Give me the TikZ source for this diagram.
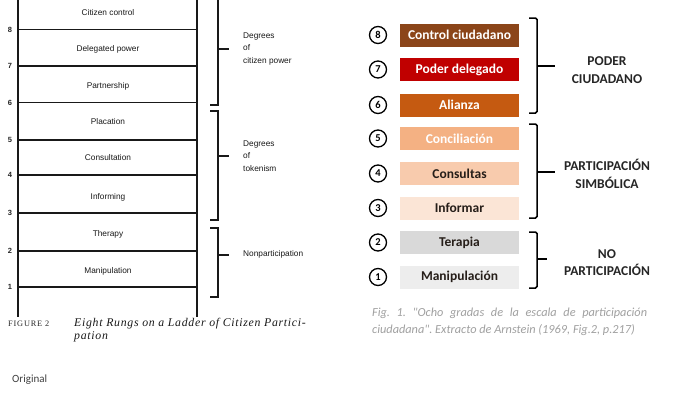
\documentclass[tikz,border=0pt]{standalone}
\usepackage{fontspec}
\setmainfont{Liberation Serif}
\newfontfamily\calfont{Carlito}
\newfontfamily\helfont{Liberation Sans}
\newfontfamily\capfont[LetterSpace=6]{Liberation Serif}
\newfontfamily\figfont[LetterSpace=10]{Liberation Serif}
\definecolor{c8}{RGB}{139,69,25}
\definecolor{c7}{RGB}{192,0,0}
\definecolor{c6}{RGB}{197,90,17}
\definecolor{c5}{RGB}{244,177,131}
\definecolor{c4}{RGB}{248,203,173}
\definecolor{c3}{RGB}{251,229,214}
\definecolor{c2}{RGB}{217,217,217}
\definecolor{c1}{RGB}{237,237,237}
\definecolor{dtext}{RGB}{38,30,25}
\definecolor{capgray}{RGB}{160,160,160}
\definecolor{origgray}{RGB}{64,64,64}
\tikzset{
  ladder/.style={line width=1.6pt, black!90},
  rungtxt/.style={font=\helfont\fontsize{8.3}{9}\selectfont, text=black!90, inner sep=0pt},
  rungnum/.style={font=\helfont\bfseries\fontsize{7.5}{8}\selectfont, text=black!85, inner sep=0pt},
  degtxt/.style={font=\helfont\fontsize{8.3}{12.5}\selectfont, text=black!90, align=left, inner sep=0pt, anchor=west},
  lbrack/.style={line width=1.6pt, black!90},
  stepbox/.style={minimum width=119pt, minimum height=23pt, inner sep=0pt, font=\calfont\bfseries\fontsize{13.5}{15}\selectfont},
  numcirc/.style={circle, draw=black, line width=1.3pt, minimum size=17pt, inner sep=0pt, font=\calfont\bfseries\fontsize{10.5}{11}\selectfont},
  rbrack/.style={line width=1.5pt, black, rounded corners=1.5pt},
  grouptxt/.style={font=\calfont\bfseries\fontsize{13.5}{17.5}\selectfont, align=center, text=black!85, inner sep=0pt},
}
\begin{document}
\begin{tikzpicture}[x=1pt,y=-1pt]
\useasboundingbox[fill=white] (0,0) rectangle (673,400);
% ---------- left ladder ----------
\coordinate (lt) at (18,0); \coordinate (lb) at (18,317);
\coordinate (rt) at (197,0); \coordinate (rb) at (197,317);
\draw[ladder] (lt) -- (lb);
\draw[ladder] (rt) -- (rb);
\foreach \k/\y in {8/29.5,7/66,6/102.5,5/140,4/175,3/213,2/251,1/287}{
  \coordinate (ra\k) at (18,\y); \coordinate (rz\k) at (197,\y);
  \draw[ladder] (ra\k) -- (rz\k);
  \node[rungnum] (n\k) at (10,\y) {\k};
}
\foreach \nm/\y/\t in {a/13/Citizen control,b/49/Delegated power,c/86/Partnership,d/122/Placation,e/158/Consultation,f/197/Informing,g/234/Therapy,h/271/Manipulation}{
  \node[rungtxt] (t\nm) at (108,\y) {\t};
}
% left brackets
\coordinate (b1a) at (218,0); \coordinate (b1b) at (218,105); \coordinate (b1c) at (210,105);
\draw[lbrack] (b1a) -- (b1b) -- (b1c);
\coordinate (b1m) at (218,49); \coordinate (b1t) at (229,49);
\draw[lbrack] (b1m) -- (b1t);
\coordinate (b2a) at (210,111); \coordinate (b2b) at (218,111); \coordinate (b2c) at (218,220); \coordinate (b2d) at (210,220);
\draw[lbrack] (b2a) -- (b2b) -- (b2c) -- (b2d);
\coordinate (b2m) at (218,156); \coordinate (b2t) at (229,156);
\draw[lbrack] (b2m) -- (b2t);
\coordinate (b3a) at (210,228); \coordinate (b3b) at (218,228); \coordinate (b3c) at (218,297); \coordinate (b3d) at (210,297);
\draw[lbrack] (b3a) -- (b3b) -- (b3c) -- (b3d);
\coordinate (b3m) at (218,255); \coordinate (b3t) at (229,255);
\draw[lbrack] (b3m) -- (b3t);
\node[degtxt] (g1) at (243,49) {Degrees\\of\\citizen power};
\node[degtxt] (g2) at (243,156) {Degrees\\of\\tokenism};
\node[degtxt] (g3) at (243,254) {Nonparticipation};
% left caption
\node[anchor=west, inner sep=0pt, font=\figfont\fontsize{8.3}{9}\selectfont, text=black!85] (fig2) at (8,324) {FIGURE 2};
\node[anchor=west, inner sep=0pt, font=\capfont\itshape\fontsize{11.8}{13}\selectfont, text=black!90, align=left] (cap2) at (74,330.5) {Eight Rungs on a Ladder of Citizen Partici-\\pation};
% ---------- right diagram ----------
\foreach \k/\y/\fc/\tc/\t in {8/35/c8/white/Control ciudadano,7/69.5/c7/white/Poder delegado,6/105/c6/white/Alianza,5/138.5/c5/white/Conciliación,4/173.5/c4/dtext/Consultas,3/208/c3/dtext/Informar,2/242.5/c2/dtext/Terapia,1/277/c1/dtext/Manipulación}{
  \node[stepbox, fill=\fc, text=\tc] (box\k) at (459.5,\y) {\t};
  \node[numcirc] (c\k) at (378,\y) {\k};
}
% right brackets
\coordinate (r1a) at (529,18); \coordinate (r1b) at (537,18); \coordinate (r1c) at (537,113); \coordinate (r1d) at (529,113);
\draw[rbrack] (r1a) -- (r1b) -- (r1c) -- (r1d);
\coordinate (r1m) at (537,66); \coordinate (r1t) at (555,66);
\draw[line width=1.5pt] (r1m) -- (r1t);
\coordinate (r2a) at (529,124); \coordinate (r2b) at (537,124); \coordinate (r2c) at (537,218); \coordinate (r2d) at (529,218);
\draw[rbrack] (r2a) -- (r2b) -- (r2c) -- (r2d);
\coordinate (r2m) at (537,172); \coordinate (r2t) at (555,172);
\draw[line width=1.5pt] (r2m) -- (r2t);
\coordinate (r3a) at (529,232); \coordinate (r3b) at (537,232); \coordinate (r3c) at (537,288); \coordinate (r3d) at (529,288);
\draw[rbrack] (r3a) -- (r3b) -- (r3c) -- (r3d);
\coordinate (r3m) at (537,259); \coordinate (r3t) at (547,259);
\draw[line width=1.5pt] (r3m) -- (r3t);
\node[grouptxt] (p1) at (607,70) {PODER\\CIUDADANO};
\node[grouptxt] (p2) at (607,174) {PARTICIPACIÓN\\SIMBÓLICA};
\node[grouptxt] (p3) at (607,262.5) {NO\\PARTICIPACIÓN};
% right caption
\node[anchor=north west, inner sep=0pt, text width=275pt, align=justify, font=\calfont\itshape\fontsize{12.3}{17}\selectfont\frenchspacing, text=capgray] (cap1) at (372,308) {Fig. 1. "Ocho gradas de la escala de participación\linebreak ciudadana". Extracto de Arnstein (1969, Fig.2, p.217)};
% original label
\node[anchor=west, inner sep=0pt, font=\calfont\fontsize{11}{12}\selectfont, text=origgray] (orig) at (12,380) {Original};
\end{tikzpicture}
\end{document}
